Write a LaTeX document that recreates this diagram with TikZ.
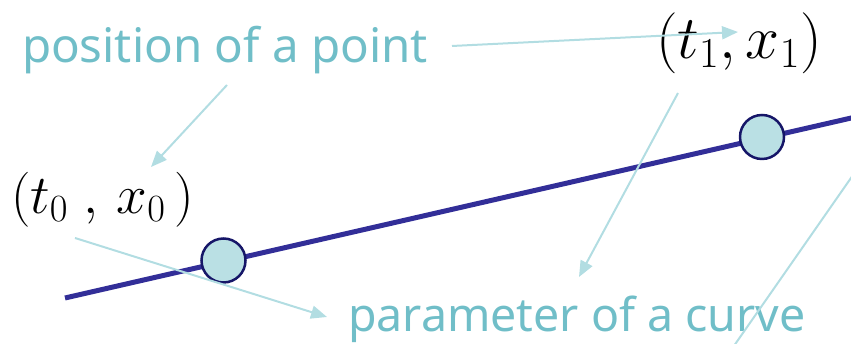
\documentclass[tikz,border=0pt]{standalone}
\usepackage{fix-cm}
\usepackage{fontspec}
\setsansfont{Noto Sans}
\usepackage{xcolor}
\usetikzlibrary{arrows.meta}
\definecolor{labelteal}{RGB}{112,190,200}
\definecolor{arrowteal}{RGB}{178,221,226}
\definecolor{curveblue}{RGB}{50,46,152}
\definecolor{dotedge}{RGB}{22,22,104}
\definecolor{dotfill}{RGB}{186,224,228}

\begin{document}
\begin{tikzpicture}[x=1pt, y=1pt,
  every node/.style={inner sep=0pt, outer sep=0pt},
  tealtext/.style={text=labelteal, font=\sffamily\fontsize{#1}{#1}\selectfont},
  coordtext/.style={font=\fontsize{#1}{#1}\selectfont},
  ptdot/.style={circle, draw=dotedge, fill=dotfill, line width=2.5pt,
                minimum size=44pt},
  pointer/.style={draw=arrowteal, line width=2pt,
                  -{Triangle[length=16pt, width=13pt]}},
]
\useasboundingbox (0,0) rectangle (851,344);

% labels
\node[tealtext=47.5, anchor=base west] (posLabel) at (22,281) {position of a point};
\node[tealtext=46.5, anchor=base west] (paramLabel) at (348,12) {parameter of a curve};
\node[coordtext=61, anchor=west] (ptOneLabel) at (656,301) {$(t_1, x_1)$};
\node[coordtext=55, anchor=west] (ptZeroLabel) at (11,144) {$(t_0\;,\, x_0\,)$};

% the curve and its two points
\coordinate (curveStart) at (65,46);
\coordinate (curveEnd) at (860,228);
\draw[curveblue, line width=5pt] (curveStart) -- (curveEnd);
\node[ptdot] (ptZero) at (223.5,83.5) {};
\node[ptdot] (ptOne) at (762,207) {};

% pointers
\coordinate (posFrom) at (452,298);
\coordinate (posToOne) at (738,312);
\coordinate (posFromB) at (227,259);
\coordinate (posToZero) at (151,177);
\coordinate (parFromZero) at (75,106);
\coordinate (parToA) at (327,27);
\coordinate (parFromOne) at (678,251);
\coordinate (parToB) at (579,67);
\coordinate (sideTop) at (860,179);
\coordinate (sideBottom) at (729,-9);

\draw[pointer] (posFrom) -- (posToOne);
\draw[pointer] (posFromB) -- (posToZero);
\draw[pointer] (parFromZero) -- (parToA);
\draw[pointer] (parFromOne) -- (parToB);
\draw[arrowteal, line width=2pt] (sideTop) -- (sideBottom);
\end{tikzpicture}
\end{document}
